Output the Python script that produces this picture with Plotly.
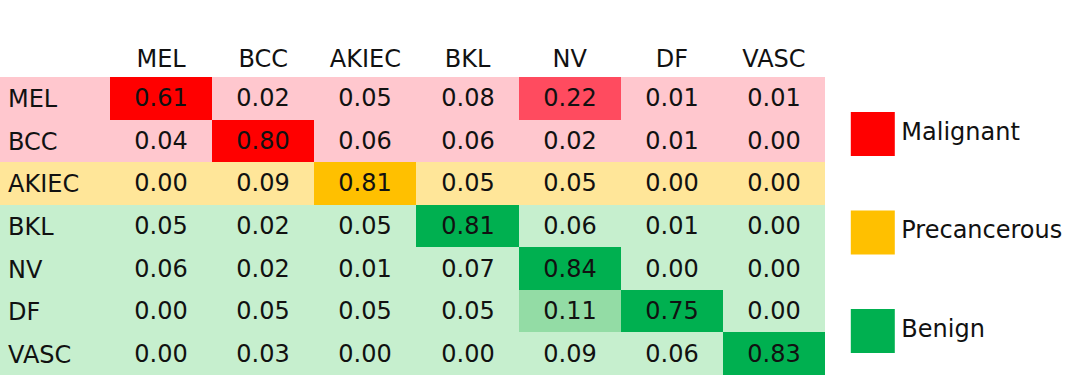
import plotly.graph_objects as go

# ---------------- data ----------------
classes = ["MEL", "BCC", "AKIEC", "BKL", "NV", "DF", "VASC"]
row_group = ["Malignant", "Malignant", "Precancerous", "Benign", "Benign", "Benign", "Benign"]
values = [
    [0.61, 0.02, 0.05, 0.08, 0.22, 0.01, 0.01],
    [0.04, 0.80, 0.06, 0.06, 0.02, 0.01, 0.00],
    [0.00, 0.09, 0.81, 0.05, 0.05, 0.00, 0.00],
    [0.05, 0.02, 0.05, 0.81, 0.06, 0.01, 0.00],
    [0.06, 0.02, 0.01, 0.07, 0.84, 0.00, 0.00],
    [0.00, 0.05, 0.05, 0.05, 0.11, 0.75, 0.00],
    [0.00, 0.03, 0.00, 0.00, 0.09, 0.06, 0.83],
]
groups = ["Malignant", "Precancerous", "Benign"]

# ---------------- styles ----------------
bg_colors = {"Malignant": "#FFC7CE", "Precancerous": "#FFE699", "Benign": "#C6EFCE"}
mid_colors = {"Malignant": "#FF4B5F", "Precancerous": "#FFD54F", "Benign": "#93DCA5"}
strong_colors = {"Malignant": "#FF0000", "Precancerous": "#FFC000", "Benign": "#00B050"}

palette = []
for g in groups:
    palette += [bg_colors[g], mid_colors[g], strong_colors[g]]
n = len(palette)
colorscale = []
for i, c in enumerate(palette):
    colorscale.append([i / n, c])
    colorscale.append([(i + 1) / n, c])


def level(v):
    if v >= 0.5:
        return 2
    if v >= 0.1:
        return 1
    return 0


codes = [[groups.index(row_group[r]) * 3 + level(v) for v in row] for r, row in enumerate(values)]
texts = [[f"{v:.2f}" for v in row] for row in values]
label_codes = [[groups.index(g) * 3] for g in row_group]

W, H = 1069, 388
FONT = "DejaVu Sans, Inter, Arial, sans-serif"
TXT = "#111111"
LABEL_COL_PX = 110
LABEL_PAD = 8 / LABEL_COL_PX   # left padding of row labels (label-axis units)
LABEL_NUDGE = 0.07             # small downward nudge of row labels (row units)

rows = list(range(len(classes)))

fig = go.Figure()

# label column background
fig.add_trace(go.Heatmap(
    z=label_codes, x=[0], y=rows,
    colorscale=colorscale, zmin=-0.5, zmax=n - 0.5, showscale=False,
    hoverinfo="skip", xaxis="x", yaxis="y",
))
# row labels
fig.add_trace(go.Scatter(
    x=[-0.5 + LABEL_PAD] * len(classes), y=[r + LABEL_NUDGE for r in rows], mode="text",
    text=classes, textposition="middle right",
    textfont=dict(size=24, color=TXT, family=FONT),
    hoverinfo="skip", showlegend=False, cliponaxis=False,
    xaxis="x", yaxis="y",
))
# matrix
fig.add_trace(go.Heatmap(
    z=codes, x=classes, y=rows,
    text=texts, texttemplate="%{text}",
    textfont=dict(size=24, color=TXT, family=FONT),
    colorscale=colorscale, zmin=-0.5, zmax=n - 0.5, showscale=False,
    hoverinfo="skip", xaxis="x2", yaxis="y",
))
# legend
fig.add_trace(go.Scatter(
    x=[0] * len(groups), y=list(range(len(groups))), mode="markers+text",
    marker=dict(symbol="square", size=44, color=[strong_colors[g] for g in groups],
                line=dict(width=0)),
    text=groups, textposition="middle right",
    textfont=dict(size=24, color=TXT, family=FONT),
    hoverinfo="skip", showlegend=False, cliponaxis=False,
    xaxis="x3", yaxis="y3",
))

hidden = dict(showgrid=False, zeroline=False, showticklabels=False, ticks="",
              showline=False, fixedrange=True)

fig.update_layout(
    width=W, height=H,
    margin=dict(l=0, r=0, t=0, b=0),
    paper_bgcolor="white", plot_bgcolor="white",
    font=dict(family=FONT, size=24, color=TXT),
    showlegend=False,
    xaxis=dict(domain=[0, LABEL_COL_PX / W], range=[-0.5, 0.5], **hidden),
    xaxis2=dict(domain=[LABEL_COL_PX / W, 825 / W], side="top", anchor="y",
                showgrid=False, zeroline=False, ticks="", showline=False,
                tickfont=dict(size=24, color=TXT, family=FONT),
                ticklabelstandoff=4, fixedrange=True),
    yaxis=dict(domain=[1 - 375 / H, 1 - 77 / H], range=[6.5, -0.5], **hidden),
    xaxis3=dict(domain=[851 / W, 1], range=[-1, 9], anchor="y3", **hidden),
    yaxis3=dict(domain=[0, 1], range=[2.58, -1.36], anchor="x3", **hidden),
)

fig.write_html("out.html", config={"displayModeBar": False},
               post_script="document.body.style.margin='0px';")
